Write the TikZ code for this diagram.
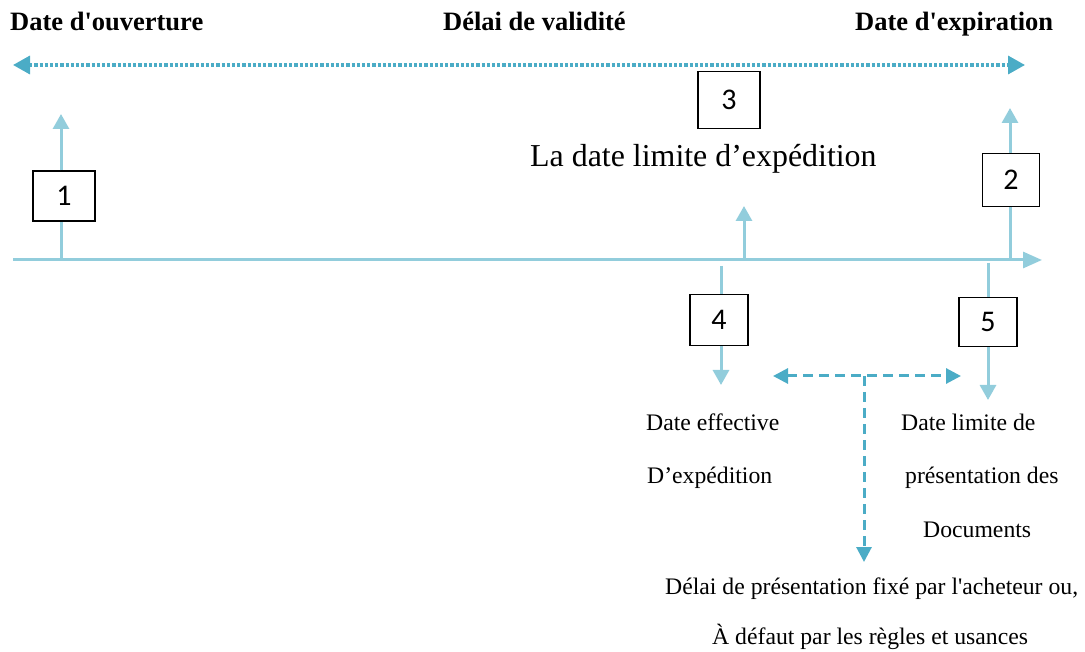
\documentclass[tikz,border=0pt]{standalone}
\usepackage{fontspec}
\setmainfont{Liberation Serif}
\newfontfamily\numfont{Carlito}
\usetikzlibrary{arrows.meta}
\definecolor{lineblue}{HTML}{92CDDC}
\definecolor{darkblue}{HTML}{4BACC6}

\begin{document}
\begin{tikzpicture}[x=1pt, y=-1pt,
  numbox/.style={draw=black, line width=1.4pt, fill=white, minimum width=59pt, minimum height=52pt, inner sep=0pt, font=\numfont\fontsize{30}{30}\selectfont},
  timeline/.style={lineblue, line width=3pt},
  uptip/.style={-{Triangle[length=15pt,width=16pt]}},
  period/.style={darkblue, line width=3pt, dash pattern=on 10pt off 6pt},
  head/.style={anchor=base west, inner sep=0pt, font=\bfseries\fontsize{26.5}{30}\selectfont},
  txt/.style={anchor=base west, inner sep=0pt, font=\fontsize{23.7}{26}\selectfont}]

\useasboundingbox (0,0) rectangle (1085,652);

% validity period
\node[head] (open) at (10,31) {Date d\textquotesingle ouverture};
\node[head] (valid) at (443,31) {Délai de validité};
\node[head] (expiry) at (855,31) {Date d\textquotesingle expiration};
\coordinate (valL) at (13,65);
\coordinate (valR) at (1025,65);
\draw[darkblue, line width=3.4pt, dash pattern=on 3.2pt off 2pt,
  {Triangle[length=17pt,width=18pt]}-{Triangle[length=17pt,width=18pt]}] (valL) -- (valR);

% time line
\coordinate (start) at (13,260);
\coordinate (end) at (1042,260);
\draw[timeline, -{Triangle[length=19pt,width=16pt]}] (start) -- (end);

\node[numbox, minimum width=62pt, minimum height=50pt] (b1) at (64,196) {1};
\node[numbox, minimum width=57pt, minimum height=53pt] (b2) at (1011,180) {2};
\node[numbox, minimum width=62pt, minimum height=57pt] (b3) at (729,100) {3};
\node[numbox, minimum width=58pt, minimum height=51pt] (b4) at (719,320) {4};
\node[numbox, minimum width=58pt, minimum height=49pt] (b5) at (988,322) {5};

\node[anchor=base west, inner sep=0pt, font=\fontsize{31.9}{34}\selectfont] (limit) at (530,167) {La date limite d’expédition};

% upward marks
\coordinate (a1) at (61,260);
\coordinate (t1) at (61,114);
\draw[timeline] (a1) -- (a1 |- b1.south);
\draw[timeline, uptip] (a1 |- b1.north) -- (t1);
\coordinate (a2) at (1010,260);
\coordinate (t2) at (1010,108);
\draw[timeline] (a2) -- (a2 |- b2.south);
\draw[timeline, uptip] (a2 |- b2.north) -- (t2);
\coordinate (a3) at (744,260);
\coordinate (t3) at (744,206);
\draw[timeline, uptip] (a3) -- (t3);

% downward marks
\coordinate (a4) at (721,266);
\coordinate (t4) at (721,385);
\draw[timeline] (a4) -- (a4 |- b4.north);
\draw[timeline, uptip] (a4 |- b4.south) -- (t4);
\coordinate (a5) at (988,263);
\coordinate (t5) at (988,400);
\draw[timeline] (a5) -- (a5 |- b5.north);
\draw[timeline, uptip] (a5 |- b5.south) -- (t5);

\node[txt] (eff1) at (646,430) {Date effective};
\node[txt] (eff2) at (647,483) {D’expédition};
\node[txt] (pres1) at (901,430) {Date limite de};
\node[txt] (pres2) at (905,483) {présentation des};
\node[txt] (pres3) at (923,537) {Documents};

% presentation period
\coordinate (perL) at (773,376);
\coordinate (perR) at (961,376);
\coordinate (perM) at (864,376);
\coordinate (perD) at (864,562);
\draw[period, {Triangle[length=15pt,width=15pt]}-{Triangle[length=15pt,width=15pt]}] (perL) -- (perR);
\draw[period, -{Triangle[length=15pt,width=15pt]}] (perM) -- (perD);

\node[txt] (rule1) at (665,594) {Délai de présentation fixé par l\textquotesingle acheteur ou,};
\node[txt] (rule2) at (712,644) {À défaut par les règles et usances};

\end{tikzpicture}
\end{document}
